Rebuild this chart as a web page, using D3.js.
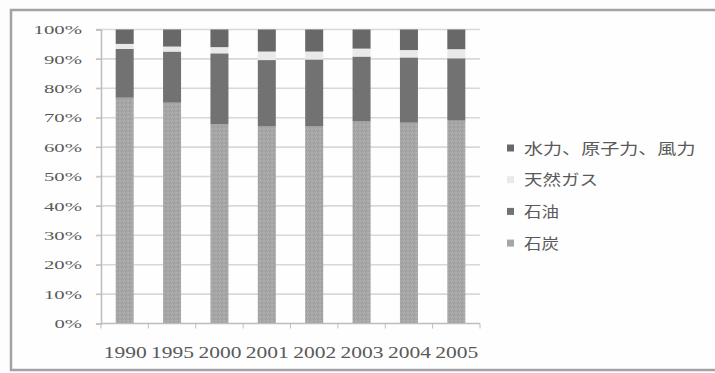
<!DOCTYPE html>
<html>
<head>
<meta charset="utf-8">
<script src="https://cdn.jsdelivr.net/npm/d3@7"></script>
<style>
  html, body { margin: 0; padding: 0; background: #fdfdfd; }
  svg { display: block; }
  text { fill: #5a5a5a; }
</style>
</head>
<body>
<svg id="chart" width="715" height="373"></svg>
<script>
// Energy mix by year (share of total, %)
const years   = ["1990", "1995", "2000", "2001", "2002", "2003", "2004", "2005"];
const coal    = [76.8, 75.1, 67.7, 67.0, 67.0, 68.7, 68.3, 69.0];
const oil     = [16.6, 17.4, 24.2, 22.6, 22.8, 22.1, 22.2, 21.2];
const gas     = [1.7, 1.7, 2.1, 2.9, 2.7, 2.7, 2.5, 3.1];
const hydro   = [4.9, 5.8, 6.0, 7.5, 7.5, 6.5, 7.0, 6.7];
const yTicks  = [0, 10, 20, 30, 40, 50, 60, 70, 80, 90, 100];

const seriesNames = ["石炭", "石油", "天然ガス", "水力、原子力、風力"];
const seriesKeys  = ["coal", "oil", "gas", "hydro"];
const colors = { coal: "#a6a6a6", oil: "#727272", gas: "#e9e9e9", hydro: "#686868" };

const rows = years.map((y, i) => ({
  year: y, coal: coal[i], oil: oil[i], gas: gas[i], hydro: hydro[i]
}));

const svg = d3.select("#chart");

// outer frame
svg.append("rect")
  .attr("x", 11).attr("y", 10).attr("width", 720).attr("height", 360)
  .attr("fill", "#fefefe").attr("stroke", "#a3a3a3").attr("stroke-width", 2.5);

const x = d3.scaleBand().domain(years).range([101, 480])
  .paddingInner(0.62).paddingOuter(0.31);
const y = d3.scaleLinear().domain([0, 100]).range([323.5, 29.5]);

// grid lines
svg.append("g").selectAll("line")
  .data(yTicks.filter(t => t > 0))
  .join("line")
  .attr("x1", 96).attr("x2", 480)
  .attr("y1", d => y(d)).attr("y2", d => y(d))
  .attr("stroke", "#d8d8d8").attr("stroke-width", 1.6);

// coal texture
const defs = svg.append("defs");
const pat = defs.append("pattern").attr("id", "grain")
  .attr("width", 4).attr("height", 4).attr("patternUnits", "userSpaceOnUse");
pat.append("rect").attr("width", 4).attr("height", 4).attr("fill", colors.coal);
pat.append("rect").attr("x", 0).attr("y", 0).attr("width", 1).attr("height", 1).attr("fill", "#b4b4b4");
pat.append("rect").attr("x", 2).attr("y", 2).attr("width", 1).attr("height", 1).attr("fill", "#999");
pat.append("rect").attr("x", 3).attr("y", 1).attr("width", 1).attr("height", 1).attr("fill", "#b0b0b0");
pat.append("rect").attr("x", 1).attr("y", 3).attr("width", 1).attr("height", 1).attr("fill", "#9c9c9c");

// stacked bars
const stack = d3.stack().keys(seriesKeys)(rows);
svg.append("g").selectAll("g")
  .data(stack)
  .join("g")
  .attr("fill", d => d.key === "coal" ? "url(#grain)" : colors[d.key])
  .selectAll("rect")
  .data(d => d)
  .join("rect")
  .attr("x", d => x(d.data.year))
  .attr("width", x.bandwidth())
  .attr("y", d => y(d[1]))
  .attr("height", d => y(d[0]) - y(d[1]));

// y axis
const yAxis = svg.append("g").attr("transform", "translate(101,0)")
  .call(d3.axisLeft(y).tickValues(yTicks).tickSize(5).tickFormat(d => d + "%"));
yAxis.select(".domain").attr("stroke", "#bdbdbd").attr("stroke-width", 1.5);
yAxis.selectAll(".tick line").attr("stroke", "#bdbdbd");
yAxis.selectAll(".tick text")
  .attr("x", -19)
  .style("font-family", "'Liberation Serif', 'DejaVu Serif', serif")
  .style("font-size", "13px")
  .attr("textLength", d => 10.5 * String(d).length + 17)
  .attr("lengthAdjust", "spacingAndGlyphs");

// x axis
const xAxis = svg.append("g").attr("transform", "translate(0,323.5)");
xAxis.append("line").attr("x1", 101).attr("x2", 480)
  .attr("stroke", "#bdbdbd").attr("stroke-width", 1.5);
xAxis.selectAll("line.tk")
  .data(years.concat(["end"]))
  .join("line").attr("class", "tk")
  .attr("x1", (d, i) => i < years.length ? x(d) - x.step() * x.paddingInner() / 2 : 480)
  .attr("x2", (d, i) => i < years.length ? x(d) - x.step() * x.paddingInner() / 2 : 480)
  .attr("y1", 0).attr("y2", 5)
  .attr("stroke", "#bdbdbd");
xAxis.selectAll("text.lbl")
  .data(years)
  .join("text").attr("class", "lbl")
  .attr("x", d => x(d) + x.bandwidth() / 2 - 21)
  .attr("y", 34)
  .style("font-family", "'Liberation Serif', 'DejaVu Serif', serif")
  .style("font-size", "17px")
  .attr("textLength", 43)
  .attr("lengthAdjust", "spacingAndGlyphs")
  .text(d => d);

// legend (top entry is the top of the stack)
const legendOrder = [3, 2, 1, 0];
const lg = svg.append("g").attr("transform", "translate(507,148)");
legendOrder.forEach((si, row) => {
  const g = lg.append("g").attr("transform", `translate(0,${row * 31.7})`);
  g.append("rect").attr("x", 0).attr("y", -3.5).attr("width", 7).attr("height", 7)
    .attr("fill", colors[seriesKeys[si]]);
  g.append("text").attr("x", 17).attr("y", 5.5)
    .style("font-family", "'Noto Sans CJK JP', sans-serif")
    .style("font-size", "15px")
    .attr("textLength", seriesNames[si].length * 19.5 - 4)
    .attr("lengthAdjust", "spacingAndGlyphs")
    .text(seriesNames[si]);
});
</script>
</body>
</html>
